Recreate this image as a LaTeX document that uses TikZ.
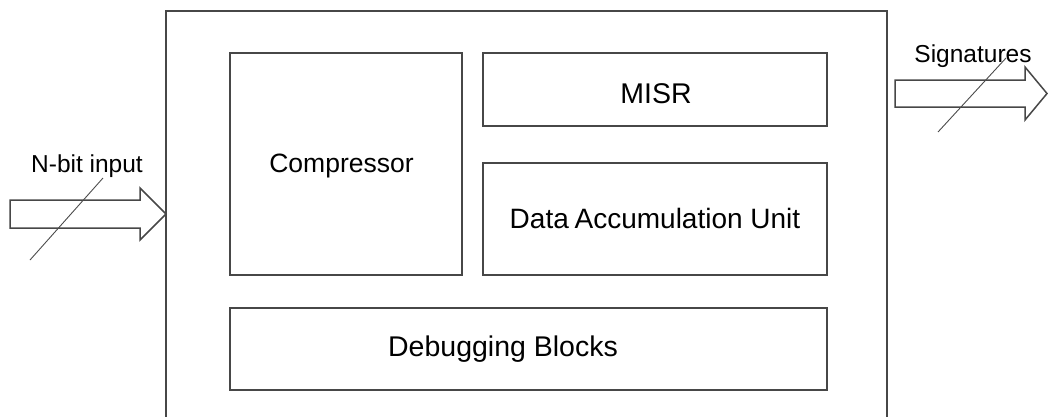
\documentclass[tikz,border=0pt]{standalone}
\usepackage{fontspec}
\setmainfont{Liberation Sans}
\begin{document}
\begin{tikzpicture}[x=1pt,y=-1pt,
  frame/.style={draw=black!72, line width=1.5pt},
  blockbox/.style={frame, inner sep=0pt},
  lbl/.style={inner sep=0pt, anchor=base, text=black},
  slash/.style={draw=black!70, line width=0.9pt},
  bigarrow/.style={frame, fill=white, line join=miter}]
\useasboundingbox (0,0) rectangle (1048,416);
\clip (0,0) rectangle (1048,416);

% enclosing unit, open at the bottom
\coordinate (sysTL) at (166,11);
\coordinate (sysTR) at (887,11);
\draw[frame] (166,430) -- (sysTL) -- (sysTR) -- (887,430);

% inner blocks
\node[blockbox, minimum width=232, minimum height=222] (comp) at (346,164) {};
\node[blockbox, minimum width=344, minimum height=73] (misr) at (655,89.5) {};
\node[blockbox, minimum width=344, minimum height=112] (dau) at (655,219) {};
\node[blockbox, minimum width=597, minimum height=82] (dbg) at (528.5,349) {};

\node[lbl, font=\fontsize{26.5}{30}\selectfont] (compT) at (341.5,172) {Compressor};
\node[lbl, font=\fontsize{28.5}{32}\selectfont] (misrT) at (656,103) {MISR};
\node[lbl, font=\fontsize{28}{32}\selectfont] (dauT) at (655,228) {Data\hspace{-2pt} Accumulation Unit};
\node[lbl, font=\fontsize{28.5}{32}\selectfont] (dbgT) at (503,356) {Debugging Blocks};

% input bus
\draw[bigarrow] (10,200) -- (140,200) -- (140,188) -- (166,214) -- (140,240)
  -- (140,228) -- (10,228) -- cycle;
\coordinate (inA) at (30,260);
\coordinate (inB) at (103,178);
\draw[slash] (inA) -- (inB);
\node[lbl, font=\fontsize{24.5}{28}\selectfont] (inT) at (87,172) {N-bit input};

% output bus
\draw[bigarrow] (895,80) -- (1025,80) -- (1025,67) -- (1047,93.5) -- (1025,120)
  -- (1025,107) -- (895,107) -- cycle;
\coordinate (outA) at (938,132);
\coordinate (outB) at (1006,58);
\draw[slash] (outA) -- (outB);
\node[lbl, font=\fontsize{24.5}{28}\selectfont] (outT) at (973,62) {Signatures};
\end{tikzpicture}
\end{document}
